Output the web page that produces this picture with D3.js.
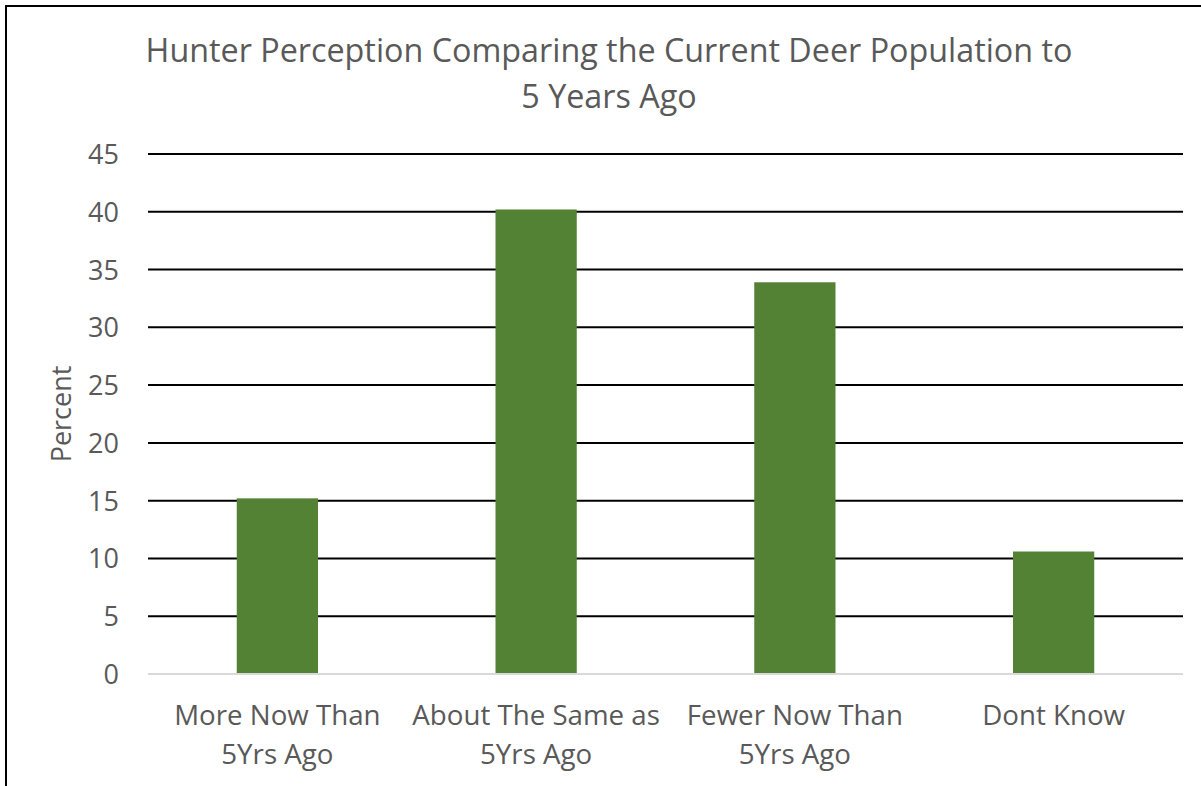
<!DOCTYPE html>
<html>
<head>
<meta charset="utf-8">
<script src="https://cdn.jsdelivr.net/npm/d3@7"></script>
<style>
  body { margin: 0; background: #fff; }
  svg text { font-family: "Open Sans", sans-serif; fill: #595959; }
</style>
</head>
<body>
<svg id="chart" width="1201" height="786"></svg>
<script>
var categories = [["More Now Than", "5Yrs Ago"], ["About The Same as", "5Yrs Ago"], ["Fewer Now Than", "5Yrs Ago"], ["Dont Know"]];
var values = [15.2, 40.2, 33.9, 10.6];
var yTicks = [0, 5, 10, 15, 20, 25, 30, 35, 40, 45];
var titleLines = ["Hunter Perception Comparing the Current Deer Population to", "5 Years Ago"];

var svg = d3.select("#chart");
var margin = { left: 148, right: 18, top: 154, bottom: 112 };
var width = 1201, height = 786;

// chart border (only left and top show in the frame)
svg.append("rect")
    .attr("x", 6).attr("y", 6)
    .attr("width", 1210).attr("height", 800)
    .attr("fill", "none")
    .attr("stroke", "black")
    .attr("stroke-width", 2);

var x = d3.scaleBand()
    .domain(d3.range(categories.length))
    .range([margin.left, width - margin.right])
    .paddingInner(0.686)
    .paddingOuter(0.343);

var y = d3.scaleLinear()
    .domain([0, 45])
    .range([height - margin.bottom, margin.top]);

// grid lines
svg.append("g")
    .selectAll("line")
    .data(yTicks.filter(function (d) { return d > 0; }))
    .enter()
    .append("line")
    .attr("x1", margin.left)
    .attr("x2", width - margin.right)
    .attr("y1", function (d) { return y(d); })
    .attr("y2", function (d) { return y(d); })
    .attr("stroke", "black")
    .attr("stroke-width", 2);

// bars
svg.append("g")
    .selectAll("rect")
    .data(values)
    .enter()
    .append("rect")
    .attr("x", function (d, i) { return x(i); })
    .attr("width", x.bandwidth())
    .attr("y", function (d) { return y(d); })
    .attr("height", function (d) { return y(0) - y(d); })
    .attr("fill", "#548235");

// baseline
svg.append("line")
    .attr("x1", margin.left)
    .attr("x2", width - margin.right)
    .attr("y1", y(0))
    .attr("y2", y(0))
    .attr("stroke", "#d9d9d9")
    .attr("stroke-width", 2);

// y tick labels
svg.append("g")
    .selectAll("text")
    .data(yTicks)
    .enter()
    .append("text")
    .attr("x", 119)
    .attr("y", function (d) { return y(d) + 10; })
    .attr("text-anchor", "end")
    .style("font-size", "27px")
    .text(function (d) { return d; });

// x labels
var xl = svg.append("g")
    .selectAll("text")
    .data(categories)
    .enter()
    .append("text")
    .attr("text-anchor", "middle")
    .style("font-size", "27.7px");
xl.selectAll("tspan")
    .data(function (d, i) { return d.map(function (s) { return { s: s, i: i }; }); })
    .enter()
    .append("tspan")
    .attr("x", function (d) { return x(d.i) + x.bandwidth() / 2; })
    .attr("y", function (d, j) { return 725 + j * 39; })
    .text(function (d) { return d.s; });

// axis title
svg.append("text")
    .attr("transform", "translate(71," + (y(0) + y(45)) / 2 + ") rotate(-90)")
    .attr("text-anchor", "middle")
    .style("font-size", "27px")
    .text("Percent");

// chart title
svg.append("g")
    .selectAll("text")
    .data(titleLines)
    .enter()
    .append("text")
    .attr("x", 609)
    .attr("y", function (d, i) { return 62 + i * 46; })
    .attr("text-anchor", "middle")
    .style("font-size", "32.3px")
    .text(function (d) { return d; });
</script>
</body>
</html>
